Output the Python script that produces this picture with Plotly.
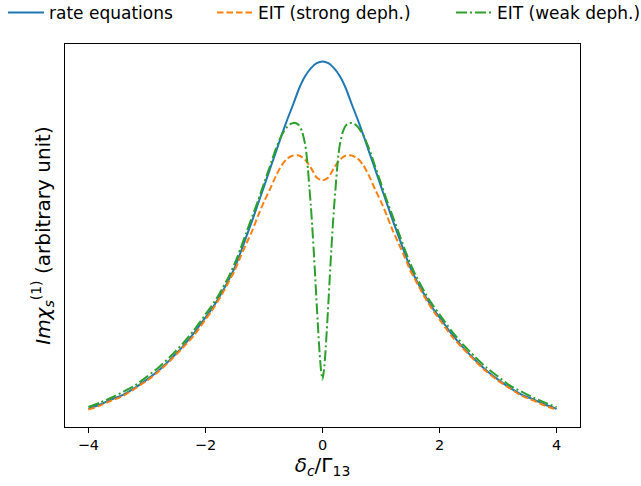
import plotly.graph_objects as go

# Half-curves (x >= 0); the spectra are symmetric in delta_c
x_half = [0.0, 0.1, 0.2, 0.3, 0.4, 0.5, 0.6, 0.7, 0.8, 0.9, 1.0,
          1.1, 1.2, 1.3, 1.4, 1.5, 1.6, 1.7, 1.8, 1.9, 2.0,
          2.2, 2.4, 2.6, 2.8, 3.0, 3.2, 3.4, 3.6, 3.8, 4.0]
rate_half = [1.000, 0.995, 0.981, 0.959, 0.926, 0.883, 0.842, 0.798, 0.751, 0.705, 0.658,
             0.612, 0.566, 0.522, 0.478, 0.437, 0.404, 0.374, 0.347, 0.322, 0.301,
             0.257, 0.219, 0.186, 0.156, 0.131, 0.109, 0.090, 0.077, 0.063, 0.051]
strong_half = [0.675, 0.683, 0.710, 0.732, 0.743, 0.743, 0.735, 0.716, 0.686, 0.650, 0.617,
               0.579, 0.538, 0.503, 0.467, 0.429, 0.399, 0.369, 0.342, 0.317, 0.295,
               0.251, 0.216, 0.183, 0.153, 0.128, 0.107, 0.087, 0.074, 0.060, 0.049]
x_weak_half = [0.0, 0.025, 0.05, 0.075, 0.1, 0.125, 0.15, 0.175, 0.2, 0.225, 0.25, 0.275, 0.3,
               0.35, 0.4, 0.45, 0.5, 0.55, 0.6, 0.65, 0.7,
               0.8, 0.9, 1.0, 1.1, 1.2, 1.3, 1.4, 1.5, 1.6, 1.7, 1.8, 1.9, 2.0,
               2.2, 2.4, 2.6, 2.8, 3.0, 3.2, 3.4, 3.6, 3.8, 4.0]
weak_half = [0.131, 0.156, 0.205, 0.270, 0.339, 0.413, 0.484, 0.549, 0.607, 0.658, 0.708, 0.749, 0.776,
             0.809, 0.825, 0.831, 0.832, 0.829, 0.822, 0.811, 0.798,
             0.760, 0.713, 0.667, 0.620, 0.577, 0.533, 0.489, 0.448, 0.413, 0.383, 0.355, 0.331, 0.309,
             0.265, 0.227, 0.194, 0.164, 0.139, 0.115, 0.098, 0.082, 0.068, 0.056]

series_names = ["rate equations", "EIT (strong deph.)", "EIT (weak deph.)"]
tick_vals = [-4, -2, 0, 2, 4]
tick_text = ["\u22124", "\u22122", "0", "2", "4"]


def mirror(xs, ys):
    xf = [-v for v in xs[:0:-1]] + list(xs)
    yf = list(ys[:0:-1]) + list(ys)
    return xf, yf


xr, yr = mirror(x_half, rate_half)
xs, ys = mirror(x_half, strong_half)
xw, yw = mirror(x_weak_half, weak_half)

FONT = "DejaVu Sans"
fig = go.Figure()
fig.add_trace(go.Scatter(x=xr, y=yr, mode="lines", name=series_names[0],
                         line=dict(color="#1f77b4", width=2, shape="spline", smoothing=0.6),
                         legend="legend"))
fig.add_trace(go.Scatter(x=xs, y=ys, mode="lines", name=series_names[1],
                         line=dict(color="#ff7f0e", width=2, dash="6.5px,3px", shape="spline", smoothing=0.6),
                         legend="legend2"))
fig.add_trace(go.Scatter(x=xw, y=yw, mode="lines", name=series_names[2],
                         line=dict(color="#2ca02c", width=2, dash="11px,3px,2px,3px", shape="spline", smoothing=0.6),
                         legend="legend3"))

all_y = yr + ys + yw
ymin, ymax = min(all_y), max(all_y)
pad = 0.05 * (ymax - ymin)
xmin, xmax = min(xr), max(xr)
xpad = 0.05 * (xmax - xmin)

W, H = 641, 486
ML, MR, MT, MB = 65, 61, 44, 59
PW = W - ML - MR
PH = H - MT - MB

leg_common = dict(orientation="h", yanchor="middle", y=1 + (MT - 13) / PH, xanchor="left",
                  font=dict(family=FONT, size=17, color="#000000"),
                  bgcolor="rgba(0,0,0,0)", itemwidth=36, borderwidth=0)

fig.update_layout(
    width=W, height=H,
    margin=dict(l=ML, r=MR, t=MT, b=MB, autoexpand=False),
    paper_bgcolor="white", plot_bgcolor="white",
    font=dict(family=FONT, color="#000000"),
    showlegend=True,
    legend=dict(leg_common, x=(3 - ML) / PW),
    legend2=dict(leg_common, x=(212 - ML) / PW),
    legend3=dict(leg_common, x=(451 - ML) / PW),
    xaxis=dict(range=[xmin - xpad, xmax + xpad], tickvals=tick_vals, ticktext=tick_text,
               ticks="outside", ticklen=4.5, tickwidth=1, tickcolor="#000000",
               showline=True, linecolor="#000000", linewidth=1, mirror=True,
               showgrid=False, zeroline=False, automargin=False,
               tickfont=dict(family=FONT, size=14.5, color="#000000"),
               title=dict(text="<i>δ</i><sub><i>c</i></sub>/Γ<sub>13</sub>",
                          font=dict(family=FONT, size=20, color="#000000"), standoff=5)),
    yaxis=dict(range=[ymin - pad, ymax + pad], showticklabels=False, ticks="",
               showline=True, linecolor="#000000", linewidth=1, mirror=True,
               showgrid=False, zeroline=False, automargin=False,
               title=dict(text="<i>Imχ</i><sub><i>s</i></sub><sup>(1)</sup> (arbitrary unit)",
                          font=dict(family=FONT, size=20, color="#000000"), standoff=8)),
)

# remove the default 8px page margin so the figure sits at the window's top-left corner
fig.write_html("out.html", config={"displayModeBar": False},
               post_script="document.body.style.margin='0px';")
